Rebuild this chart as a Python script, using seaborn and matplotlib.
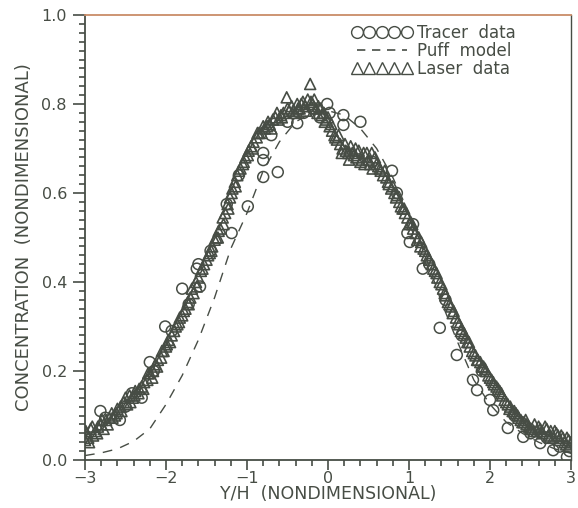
import matplotlib
matplotlib.use("Agg")
import matplotlib.pyplot as plt
from matplotlib.lines import Line2D
from matplotlib.ticker import MultipleLocator, FormatStrFormatter
import pandas as pd
import seaborn as sns

# Tracer (circles) measurements
tracer_x = [-2.81, -2.75, -2.57, -2.50, -2.42, -2.30, -2.20, -2.15, -2.01, -1.93,
            -1.80, -1.72, -1.62, -1.60, -1.58, -1.45, -1.25, -1.19, -1.10, -0.99,
            -0.80, -0.80, -0.80, -0.62, -0.70, -0.50, -0.38, -0.30, -0.19, -0.10,
            -0.01, 0.02, 0.19, 0.19, 0.40, 0.55, 0.79, 0.85, 0.98, 1.01,
            1.05, 1.17, 1.25, 1.38, 1.45, 1.59, 1.65, 1.79, 1.84, 1.90,
            2.00, 2.04, 2.22, 2.30, 2.41, 2.50, 2.62, 2.70, 2.78, 2.86,
            2.95, 2.98]
tracer_y = [0.110, 0.095, 0.090, 0.120, 0.150, 0.140, 0.220, 0.200, 0.300, 0.290,
            0.385, 0.350, 0.430, 0.440, 0.390, 0.470, 0.575, 0.510, 0.640, 0.570,
            0.636, 0.674, 0.690, 0.647, 0.730, 0.760, 0.757, 0.780, 0.790, 0.770,
            0.800, 0.780, 0.775, 0.753, 0.760, 0.670, 0.650, 0.600, 0.510, 0.490,
            0.530, 0.430, 0.440, 0.297, 0.360, 0.236, 0.280, 0.180, 0.157, 0.200,
            0.135, 0.112, 0.072, 0.100, 0.052, 0.060, 0.038, 0.050, 0.022, 0.030,
            0.007, 0.020]

# Laser (triangles) measurements, two traverses
laser_x = [-3.00, -2.98, -2.96, -2.93, -2.90, -2.87, -2.84, -2.80, -2.77, -2.74,
           -2.70, -2.67, -2.63, -2.60, -2.56, -2.52, -2.48, -2.45, -2.41, -2.38,
           -2.34, -2.30, -2.27, -2.23, -2.20, -2.16, -2.13, -2.10, -2.06, -2.03,
           -2.00, -1.97, -1.93, -1.90, -1.86, -1.83, -1.80, -1.76, -1.73, -1.70,
           -1.66, -1.63, -1.60, -1.57, -1.53, -1.50, -1.46, -1.43, -1.40, -1.36,
           -1.33, -1.30, -1.27, -1.24, -1.21, -1.18, -1.15, -1.12, -1.08, -1.05,
           -1.02, -0.98, -0.95, -0.92, -0.88, -0.85, -0.82, -0.78, -0.75, -0.72,
           -0.68, -0.65, -0.61, -0.58, -0.55, -0.51, -0.48, -0.45, -0.41, -0.38,
           -0.35, -0.31, -0.28, -0.25, -0.22, -0.19, -0.15, -0.12, -0.08, -0.05,
           -0.02, 0.02, 0.05, 0.08, 0.11, 0.15, 0.18, 0.22, 0.25, 0.28,
           0.32, 0.35, 0.38, 0.42, 0.45, 0.48, 0.52, 0.55, 0.58, 0.62,
           0.65, 0.68, 0.72, 0.75, 0.78, 0.82, 0.85, 0.88, 0.92, 0.95,
           0.98, 1.02, 1.05, 1.08, 1.12, 1.15, 1.18, 1.22, 1.25, 1.28,
           1.32, 1.35, 1.38, 1.42, 1.45, 1.48, 1.52, 1.55, 1.58, 1.62,
           1.65, 1.68, 1.72, 1.75, 1.78, 1.82, 1.85, 1.88, 1.92, 1.95,
           1.98, 2.02, 2.05, 2.08, 2.12, 2.15, 2.18, 2.22, 2.25, 2.28,
           2.32, 2.35, 2.38, 2.42, 2.45, 2.48, 2.52, 2.55, 2.58, 2.62,
           2.65, 2.68, 2.72, 2.75, 2.78, 2.82, 2.85, 2.88, 2.92, 2.95,
           2.98, 3.00] + \
          [-2.99, -2.95, -2.91, -2.85, -2.79, -2.72, -2.66, -2.61, -2.55, -2.50,
           -2.44, -2.39, -2.33, -2.28, -2.22, -2.17, -2.11, -2.05, -1.99, -1.95,
           -1.88, -1.84, -1.78, -1.72, -1.68, -1.62, -1.55, -1.48, -1.44, -1.38,
           -1.35, -1.29, -1.23, -1.19, -1.14, -1.10, -1.04, -0.99, -0.93, -0.87,
           -0.80, -0.74, -0.70, -0.63, -0.57, -0.50, -0.43, -0.37, -0.33, -0.27,
           -0.21, -0.17, -0.13, -0.09, -0.04, 0.00, 0.04, 0.09, 0.13, 0.17,
           0.21, 0.26, 0.30, 0.34, 0.40, 0.44, 0.50, 0.54, 0.60, 0.64,
           0.70, 0.74, 0.80, 0.84, 0.90, 0.94, 1.00, 1.04, 1.10, 1.14,
           1.20, 1.24, 1.30, 1.34, 1.40, 1.44, 1.50, 1.54, 1.60, 1.64,
           1.70, 1.74, 1.80, 1.84, 1.90, 1.94, 2.00, 2.04, 2.10, 2.14,
           2.20, 2.24, 2.30, 2.34, 2.40, 2.44, 2.50, 2.54, 2.60, 2.64,
           2.70, 2.74, 2.80, 2.84, 2.90, 2.94, 2.97]
laser_y = [0.045, 0.060, 0.050, 0.070, 0.055, 0.065, 0.075, 0.080, 0.070, 0.090,
           0.095, 0.105, 0.100, 0.115, 0.120, 0.130, 0.125, 0.145, 0.140, 0.155,
           0.150, 0.165, 0.175, 0.180, 0.195, 0.200, 0.215, 0.225, 0.230, 0.245,
           0.255, 0.270, 0.280, 0.290, 0.305, 0.320, 0.325, 0.340, 0.355, 0.365,
           0.375, 0.400, 0.410, 0.425, 0.440, 0.450, 0.465, 0.480, 0.495, 0.500,
           0.520, 0.545, 0.555, 0.575, 0.590, 0.610, 0.625, 0.640, 0.655, 0.665,
           0.680, 0.695, 0.705, 0.715, 0.725, 0.735, 0.735, 0.745, 0.750, 0.755,
           0.765, 0.770, 0.765, 0.775, 0.780, 0.815, 0.785, 0.795, 0.780, 0.800,
           0.790, 0.805, 0.795, 0.810, 0.845, 0.800, 0.790, 0.795, 0.775, 0.780,
           0.765, 0.750, 0.740, 0.730, 0.720, 0.710, 0.700, 0.695, 0.690, 0.705,
           0.685, 0.680, 0.695, 0.675, 0.665, 0.690, 0.665, 0.655, 0.680, 0.660,
           0.650, 0.640, 0.635, 0.620, 0.610, 0.600, 0.595, 0.580, 0.565, 0.555,
           0.545, 0.535, 0.520, 0.510, 0.500, 0.490, 0.475, 0.460, 0.450, 0.440,
           0.425, 0.410, 0.400, 0.385, 0.370, 0.355, 0.345, 0.335, 0.320, 0.305,
           0.295, 0.285, 0.265, 0.255, 0.245, 0.235, 0.225, 0.220, 0.210, 0.200,
           0.190, 0.180, 0.170, 0.165, 0.155, 0.145, 0.135, 0.125, 0.120, 0.110,
           0.105, 0.095, 0.090, 0.085, 0.080, 0.075, 0.070, 0.080, 0.065, 0.070,
           0.060, 0.075, 0.055, 0.065, 0.050, 0.060, 0.045, 0.055, 0.040, 0.050,
           0.030, 0.040] + \
          [0.065, 0.040, 0.075, 0.060, 0.090, 0.080, 0.095, 0.105, 0.110, 0.140,
           0.130, 0.145, 0.160, 0.160, 0.195, 0.185, 0.210, 0.245, 0.260, 0.265,
           0.300, 0.310, 0.335, 0.350, 0.385, 0.390, 0.430, 0.460, 0.470, 0.500,
           0.515, 0.530, 0.565, 0.600, 0.615, 0.650, 0.670, 0.685, 0.700, 0.735,
           0.750, 0.760, 0.745, 0.780, 0.770, 0.790, 0.785, 0.790, 0.800, 0.785,
           0.805, 0.810, 0.780, 0.790, 0.760, 0.770, 0.755, 0.725, 0.730, 0.690,
           0.710, 0.675, 0.690, 0.700, 0.670, 0.690, 0.675, 0.690, 0.665, 0.655,
           0.650, 0.625, 0.615, 0.590, 0.570, 0.565, 0.530, 0.530, 0.495, 0.480,
           0.470, 0.455, 0.430, 0.420, 0.395, 0.375, 0.350, 0.330, 0.310, 0.290,
           0.275, 0.265, 0.240, 0.225, 0.210, 0.205, 0.185, 0.175, 0.160, 0.150,
           0.130, 0.115, 0.110, 0.100, 0.085, 0.090, 0.070, 0.065, 0.075, 0.065,
           0.070, 0.050, 0.065, 0.055, 0.050, 0.035, 0.045]

# Puff model curve
puff_x = [-3.0, -2.8, -2.6, -2.4, -2.2, -2.0, -1.8, -1.6, -1.4, -1.2, -1.0,
          -0.8, -0.6, -0.4, -0.2, 0.0, 0.2, 0.4, 0.6, 0.8, 1.0,
          1.2, 1.4, 1.6, 1.8, 2.0, 2.2, 2.4, 2.6, 2.8, 3.0]
puff_y = [0.010, 0.016, 0.025, 0.042, 0.070, 0.125, 0.190, 0.270, 0.365, 0.475, 0.555,
          0.650, 0.715, 0.760, 0.780, 0.785, 0.775, 0.745, 0.700, 0.635, 0.555,
          0.460, 0.355, 0.265, 0.180, 0.125, 0.085, 0.060, 0.040, 0.025, 0.015]

legend_labels = ["Tracer  data", "Puff  model", "Laser  data"]

INK = "#474d45"

sns.set_style("ticks")
plt.rcParams["font.family"] = ["DejaVu Sans"]

tracer = pd.DataFrame({"x": tracer_x, "y": tracer_y})
laser = pd.DataFrame({"x": laser_x, "y": laser_y})
puff = pd.DataFrame({"x": puff_x, "y": puff_y})

fig = plt.figure(figsize=(5.78, 5.08), dpi=100)
ax = fig.add_axes([85 / 578, 48 / 508, 486 / 578, 445 / 508])

sns.lineplot(data=puff, x="x", y="y", ax=ax, color=INK, linewidth=1.0,
             linestyle=(0, (7, 6)), errorbar=None, sort=False)
sns.scatterplot(data=laser, x="x", y="y", ax=ax, marker="^", s=62,
                facecolor="none", edgecolor=INK, linewidth=1.2, legend=False)
sns.scatterplot(data=tracer, x="x", y="y", ax=ax, marker="o", s=62,
                facecolor="none", edgecolor=INK, linewidth=1.1, legend=False)

ax.set_xlim(-3, 3)
ax.set_ylim(0, 1.0)
ax.xaxis.set_major_locator(MultipleLocator(1))
ax.xaxis.set_minor_locator(MultipleLocator(0.2))
ax.yaxis.set_major_locator(MultipleLocator(0.2))
ax.yaxis.set_minor_locator(MultipleLocator(0.02))
ax.yaxis.set_major_formatter(FormatStrFormatter("%.1f"))

ax.tick_params(axis="both", which="both", direction="out", color=INK,
               labelcolor=INK, labelsize=11.5, width=1.2)
ax.tick_params(axis="x", which="major", length=7, pad=1)
ax.tick_params(axis="x", which="minor", length=4.5)
ax.tick_params(axis="y", which="major", length=9, pad=4)
ax.tick_params(axis="y", which="minor", length=4.5)

for side, sp in ax.spines.items():
    sp.set_color(INK)
    sp.set_linewidth(1.3)
ax.spines["top"].set_color("#c98c68")
ax.spines["right"].set_linewidth(1.0)

ax.set_xlabel("Y/H  (NONDIMENSIONAL)", fontsize=12.5, color=INK, labelpad=-1)
ax.set_ylabel("CONCENTRATION  (NONDIMENSIONAL)", fontsize=13, color=INK, labelpad=6)

handles = [
    Line2D([], [], marker="o", linestyle="none", markerfacecolor="none",
           markeredgecolor=INK, markersize=8.5, markeredgewidth=1.0),
    Line2D([], [], linestyle=(0, (5, 4)), color=INK, linewidth=1.2),
    Line2D([], [], marker="^", linestyle="none", markerfacecolor="none",
           markeredgecolor=INK, markersize=8.5, markeredgewidth=1.0),
]
leg = ax.legend(handles, legend_labels, loc="upper right", frameon=False,
                numpoints=5, handlelength=3.6, handletextpad=0.3,
                labelspacing=0.0, fontsize=12, borderaxespad=0.0,
                bbox_to_anchor=(0.9, 0.995))
for t in leg.get_texts():
    t.set_color(INK)

fig.savefig("out.png", dpi=100, facecolor="white")
